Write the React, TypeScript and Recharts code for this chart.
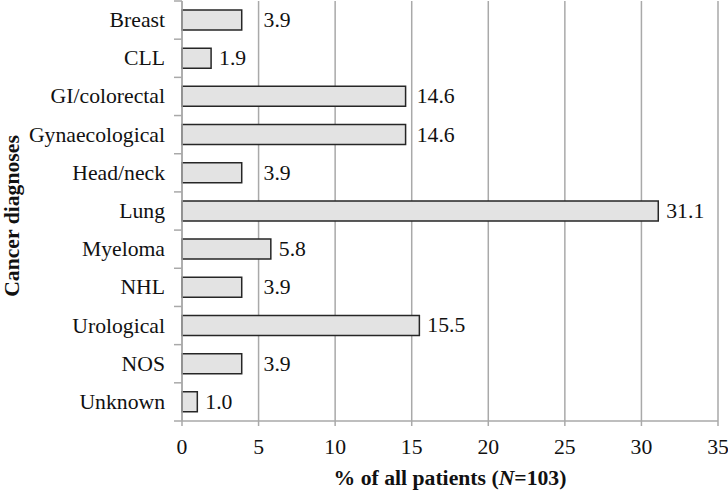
import React from 'react';
import { BarChart, Bar, XAxis, YAxis, CartesianGrid, LabelList, Label } from 'recharts';

const categories = ['Breast', 'CLL', 'GI/colorectal', 'Gynaecological', 'Head/neck', 'Lung', 'Myeloma', 'NHL', 'Urological', 'NOS', 'Unknown'];
const percents = [3.9, 1.9, 14.6, 14.6, 3.9, 31.1, 5.8, 3.9, 15.5, 3.9, 1.0];
const xTicks = [0, 5, 10, 15, 20, 25, 30, 35];

const data = categories.map((name, i) => ({ name, pct: percents[i] }));

const FONT = "'Liberation Serif', 'DejaVu Serif', serif";
const FS = 21.7;
const GRID = '#a9a9a9';
const W = 728;
const H = 494;
const M = { top: 1, right: 10, bottom: 0, left: 0 };
const X_AXIS_H = 73;
const Y_AXIS_W = 182;
const band = (H - M.top - M.bottom - X_AXIS_H) / categories.length;

// rough text width for digits / dot in Times at FS
const textWidth = (s: string) => s.split('').reduce((w, c) => w + (c === '.' ? 0.25 : 0.5), 0) * FS;

// value label placed outside the bar end, stepped past a gridline if it would sit on it
const ValueLabel = (props: any) => {
  const { x, y, width, height, value } = props;
  const text = Number(value).toFixed(1);
  const unit = width / value;
  const w = textWidth(text);
  let lx = x + width + 8;
  for (const t of xTicks) {
    const gx = x + t * unit;
    if (gx > lx - 2 && gx < lx + w + 2) lx = gx + 5;
  }
  return (
    <text x={lx} y={y + height / 2} dominantBaseline="central" style={{ fontFamily: FONT, fontSize: FS }} fill="#111">
      {text}
    </text>
  );
};

// category tick: label plus Excel-style tick marks between categories
const CatTick = (props: any) => {
  const { x, y, payload, index } = props;
  const ax = x + 17;
  return (
    <g>
      <line x1={ax - 8} x2={ax} y1={y - band / 2} y2={y - band / 2} stroke={GRID} strokeWidth={1.5} />
      {index === categories.length - 1 && (
        <line x1={ax - 8} x2={ax} y1={y + band / 2} y2={y + band / 2} stroke={GRID} strokeWidth={1.5} />
      )}
      <text x={x} y={y} textAnchor="end" dominantBaseline="central" style={{ fontFamily: FONT, fontSize: FS }} fill="#111">
        {payload.value}
      </text>
    </g>
  );
};

const XTitle = (props: any) => {
  const vb = props.viewBox;
  return (
    <text x={vb.x + vb.width / 2} y={478} textAnchor="middle" dominantBaseline="central" style={{ fontFamily: FONT, fontSize: FS, fontWeight: 'bold' }} fill="#111">
      % of all patients (<tspan fontStyle="italic">N</tspan>=103)
    </text>
  );
};

const YTitle = () => (
  <text x={12} y={216} transform="rotate(-90 12 216)" textAnchor="middle" dominantBaseline="central" style={{ fontFamily: FONT, fontSize: FS, fontWeight: 'bold' }} fill="#111">
    Cancer diagnoses
  </text>
);

export default function App() {
  return (
    <div style={{ position: 'absolute', left: 0, top: 0, width: W, height: H, background: '#fff', fontFamily: FONT }}>
      <BarChart width={W} height={H} data={data} layout="vertical" margin={M} barSize={20}>
        <CartesianGrid horizontal={false} stroke={GRID} strokeWidth={1.5} />
        <XAxis
          type="number"
          domain={[0, 35]}
          ticks={xTicks}
          interval={0}
          height={X_AXIS_H}
          stroke={GRID}
          axisLine={{ stroke: GRID, strokeWidth: 1.5 }}
          tickLine={{ stroke: GRID, strokeWidth: 1.5 }}
          tickSize={5}
          tickMargin={13}
          tick={{ style: { fontFamily: FONT, fontSize: FS }, fill: '#111' }}
        >
          <Label content={<XTitle />} />
        </XAxis>
        <YAxis
          type="category"
          dataKey="name"
          width={Y_AXIS_W}
          interval={0}
          axisLine={{ stroke: GRID, strokeWidth: 1.5 }}
          tickLine={false}
          tickSize={8}
          tickMargin={9}
          tick={<CatTick />}
        >
          <Label content={<YTitle />} />
        </YAxis>
        <Bar dataKey="pct" fill="#e3e3e3" stroke="#262626" strokeWidth={1.5} isAnimationActive={false}>
          <LabelList dataKey="pct" content={<ValueLabel />} />
        </Bar>
      </BarChart>
    </div>
  );
}
